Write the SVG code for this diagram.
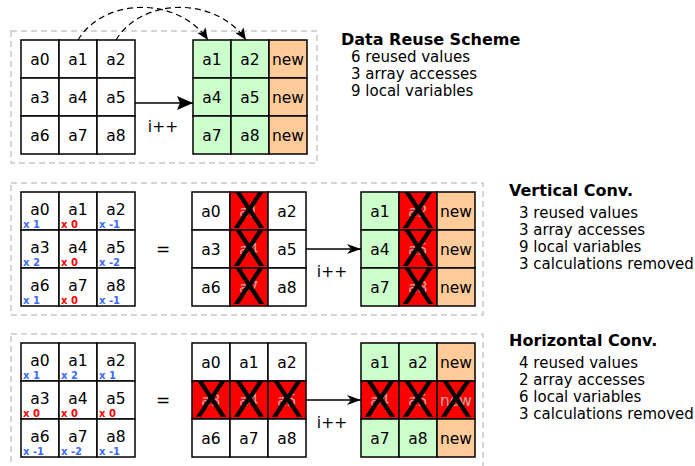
<svg xmlns="http://www.w3.org/2000/svg" width="695" height="466" viewBox="0 0 695 466">
<defs>
<style>
text{font-family:"DejaVu Sans","Liberation Sans",sans-serif;fill:#000}
.frame{fill:none;stroke:#c8c8c8;stroke-width:1.5;stroke-dasharray:6,4}
.c{stroke:#000;stroke-width:1.5}
.w{fill:#fff}.g{fill:#ccffcc}.o{fill:#ffcc99}.r{fill:#ff0000}
.lbl{font-size:15.5px;text-anchor:middle}
.hid{font-size:15.5px;text-anchor:middle;fill:#c8a0a0}
.X{font-size:49px;text-anchor:middle}
.sb{font-size:10px;font-weight:bold;fill:#3a6bff}
.sr{font-size:10px;font-weight:bold;fill:#ff0000}
.title{font-size:16px;font-weight:bold}
.item{font-size:15px}
.conn{fill:none;stroke:#000;stroke-width:1.5}
.dash{fill:none;stroke:#000;stroke-width:1.2;stroke-dasharray:6,4}
</style>
<marker id="big" viewBox="0 0 16 14" refX="16" refY="7" markerWidth="16" markerHeight="14" markerUnits="userSpaceOnUse" orient="auto"><path d="M0,0 L16,7 L0,14 L3,7 z" fill="#000"/></marker>
<marker id="sm" viewBox="0 0 14 10" refX="14" refY="5" markerWidth="14" markerHeight="10" markerUnits="userSpaceOnUse" orient="auto"><path d="M0,0 L14,5 L0,10 L4,5 z" fill="#000"/></marker>
<marker id="dh" viewBox="0 0 12 10" refX="12" refY="5" markerWidth="12" markerHeight="10" markerUnits="userSpaceOnUse" orient="auto"><path d="M0,0 L12,5 L0,10 L3,5 z" fill="#000"/></marker>
</defs>

<rect class="frame" x="11" y="31" width="306" height="132"/>
<rect class="frame" x="11" y="183" width="472" height="132"/>
<rect class="frame" x="11" y="334" width="472" height="142"/>

<!-- Section 1 -->
<g id="s1-src">
<rect class="c w" x="21" y="40" width="38" height="38"/><rect class="c w" x="59" y="40" width="38" height="38"/><rect class="c w" x="97" y="40" width="38" height="38"/>
<rect class="c w" x="21" y="78" width="38" height="38"/><rect class="c w" x="59" y="78" width="38" height="38"/><rect class="c w" x="97" y="78" width="38" height="38"/>
<rect class="c w" x="21" y="116" width="38" height="38"/><rect class="c w" x="59" y="116" width="38" height="38"/><rect class="c w" x="97" y="116" width="38" height="38"/>
<text class="lbl" x="40" y="65">a0</text><text class="lbl" x="78" y="65">a1</text><text class="lbl" x="116" y="65">a2</text>
<text class="lbl" x="40" y="103">a3</text><text class="lbl" x="78" y="103">a4</text><text class="lbl" x="116" y="103">a5</text>
<text class="lbl" x="40" y="141">a6</text><text class="lbl" x="78" y="141">a7</text><text class="lbl" x="116" y="141">a8</text>
</g>
<g id="s1-dst">
<rect class="c g" x="193" y="40" width="38" height="38"/><rect class="c g" x="231" y="40" width="38" height="38"/><rect class="c o" x="269" y="40" width="38" height="38"/>
<rect class="c g" x="193" y="78" width="38" height="38"/><rect class="c g" x="231" y="78" width="38" height="38"/><rect class="c o" x="269" y="78" width="38" height="38"/>
<rect class="c g" x="193" y="116" width="38" height="38"/><rect class="c g" x="231" y="116" width="38" height="38"/><rect class="c o" x="269" y="116" width="38" height="38"/>
<text class="lbl" x="212" y="65">a1</text><text class="lbl" x="250" y="65">a2</text><text class="lbl" x="288" y="65">new</text>
<text class="lbl" x="212" y="103">a4</text><text class="lbl" x="250" y="103">a5</text><text class="lbl" x="288" y="103">new</text>
<text class="lbl" x="212" y="141">a7</text><text class="lbl" x="250" y="141">a8</text><text class="lbl" x="288" y="141">new</text>
</g>
<g id="s1-text">
<text class="title" x="341" y="45">Data Reuse Scheme</text>
<text class="item" x="351" y="62">6 reused values</text>
<text class="item" x="351" y="79">3 array accesses</text>
<text class="item" x="351" y="96">9 local variables</text>
</g>

<!-- Section 2 -->
<g id="s2-src">
<rect class="c w" x="21" y="192" width="38" height="38"/><rect class="c w" x="59" y="192" width="38" height="38"/><rect class="c w" x="97" y="192" width="38" height="38"/>
<rect class="c w" x="21" y="230" width="38" height="38"/><rect class="c w" x="59" y="230" width="38" height="38"/><rect class="c w" x="97" y="230" width="38" height="38"/>
<rect class="c w" x="21" y="268" width="38" height="38"/><rect class="c w" x="59" y="268" width="38" height="38"/><rect class="c w" x="97" y="268" width="38" height="38"/>
<text class="lbl" x="40" y="215">a0</text><text class="lbl" x="78" y="215">a1</text><text class="lbl" x="116" y="215">a2</text>
<text class="lbl" x="40" y="253">a3</text><text class="lbl" x="78" y="253">a4</text><text class="lbl" x="116" y="253">a5</text>
<text class="lbl" x="40" y="291">a6</text><text class="lbl" x="78" y="291">a7</text><text class="lbl" x="116" y="291">a8</text>
<text class="sb" x="23" y="228">x 1</text><text class="sr" x="61" y="228">x 0</text><text class="sb" x="99" y="228">x -1</text>
<text class="sb" x="23" y="266">x 2</text><text class="sr" x="61" y="266">x 0</text><text class="sb" x="99" y="266">x -2</text>
<text class="sb" x="23" y="304">x 1</text><text class="sr" x="61" y="304">x 0</text><text class="sb" x="99" y="304">x -1</text>
</g>
<text x="163" y="255" style="font-size:17px;text-anchor:middle">=</text>
<g id="s2-mid">
<rect class="c w" x="192" y="192" width="38" height="38"/><rect class="c r" x="230" y="192" width="38" height="38"/><rect class="c w" x="268" y="192" width="38" height="38"/>
<rect class="c w" x="192" y="230" width="38" height="38"/><rect class="c r" x="230" y="230" width="38" height="38"/><rect class="c w" x="268" y="230" width="38" height="38"/>
<rect class="c w" x="192" y="268" width="38" height="38"/><rect class="c r" x="230" y="268" width="38" height="38"/><rect class="c w" x="268" y="268" width="38" height="38"/>
<text class="lbl" x="211" y="217">a0</text><text class="hid" x="249" y="217">a1</text><text class="lbl" x="287" y="217">a2</text>
<text class="lbl" x="211" y="255">a3</text><text class="hid" x="249" y="255">a4</text><text class="lbl" x="287" y="255">a5</text>
<text class="lbl" x="211" y="293">a6</text><text class="hid" x="249" y="293">a7</text><text class="lbl" x="287" y="293">a8</text>
<text class="X" x="249" y="228">X</text><text class="X" x="249" y="266">X</text><text class="X" x="249" y="304">X</text>
</g>
<g id="s2-dst">
<rect class="c g" x="361" y="192" width="38" height="38"/><rect class="c r" x="399" y="192" width="38" height="38"/><rect class="c o" x="437" y="192" width="38" height="38"/>
<rect class="c g" x="361" y="230" width="38" height="38"/><rect class="c r" x="399" y="230" width="38" height="38"/><rect class="c o" x="437" y="230" width="38" height="38"/>
<rect class="c g" x="361" y="268" width="38" height="38"/><rect class="c r" x="399" y="268" width="38" height="38"/><rect class="c o" x="437" y="268" width="38" height="38"/>
<text class="lbl" x="380" y="217">a1</text><text class="hid" x="418" y="217">a2</text><text class="lbl" x="456" y="217">new</text>
<text class="lbl" x="380" y="255">a4</text><text class="hid" x="418" y="255">a5</text><text class="lbl" x="456" y="255">new</text>
<text class="lbl" x="380" y="293">a7</text><text class="hid" x="418" y="293">a8</text><text class="lbl" x="456" y="293">new</text>
<text class="X" x="418" y="228">X</text><text class="X" x="418" y="266">X</text><text class="X" x="418" y="304">X</text>
</g>
<g id="s2-text">
<text class="title" x="509" y="196">Vertical Conv.</text>
<text class="item" x="519" y="218">3 reused values</text>
<text class="item" x="519" y="235">3 array accesses</text>
<text class="item" x="519" y="252">9 local variables</text>
<text class="item" x="519" y="269">3 calculations removed</text>
</g>

<!-- Section 3 -->
<g id="s3-src">
<rect class="c w" x="21" y="343" width="38" height="38"/><rect class="c w" x="59" y="343" width="38" height="38"/><rect class="c w" x="97" y="343" width="38" height="38"/>
<rect class="c w" x="21" y="381" width="38" height="38"/><rect class="c w" x="59" y="381" width="38" height="38"/><rect class="c w" x="97" y="381" width="38" height="38"/>
<rect class="c w" x="21" y="419" width="38" height="38"/><rect class="c w" x="59" y="419" width="38" height="38"/><rect class="c w" x="97" y="419" width="38" height="38"/>
<text class="lbl" x="40" y="366">a0</text><text class="lbl" x="78" y="366">a1</text><text class="lbl" x="116" y="366">a2</text>
<text class="lbl" x="40" y="404">a3</text><text class="lbl" x="78" y="404">a4</text><text class="lbl" x="116" y="404">a5</text>
<text class="lbl" x="40" y="442">a6</text><text class="lbl" x="78" y="442">a7</text><text class="lbl" x="116" y="442">a8</text>
<text class="sb" x="23" y="379">x 1</text><text class="sb" x="61" y="379">x 2</text><text class="sb" x="99" y="379">x 1</text>
<text class="sr" x="23" y="417">x 0</text><text class="sr" x="61" y="417">x 0</text><text class="sr" x="99" y="417">x 0</text>
<text class="sb" x="23" y="455">x -1</text><text class="sb" x="61" y="455">x -2</text><text class="sb" x="99" y="455">x -1</text>
</g>
<text x="163" y="406" style="font-size:17px;text-anchor:middle">=</text>
<g id="s3-mid">
<rect class="c w" x="192" y="343" width="38" height="38"/><rect class="c w" x="230" y="343" width="38" height="38"/><rect class="c w" x="268" y="343" width="38" height="38"/>
<rect class="c r" x="192" y="381" width="38" height="38"/><rect class="c r" x="230" y="381" width="38" height="38"/><rect class="c r" x="268" y="381" width="38" height="38"/>
<rect class="c w" x="192" y="419" width="38" height="38"/><rect class="c w" x="230" y="419" width="38" height="38"/><rect class="c w" x="268" y="419" width="38" height="38"/>
<text class="lbl" x="211" y="368">a0</text><text class="lbl" x="249" y="368">a1</text><text class="lbl" x="287" y="368">a2</text>
<text class="hid" x="211" y="406">a3</text><text class="hid" x="249" y="406">a4</text><text class="hid" x="287" y="406">a5</text>
<text class="lbl" x="211" y="444">a6</text><text class="lbl" x="249" y="444">a7</text><text class="lbl" x="287" y="444">a8</text>
<text class="X" x="211" y="417">X</text><text class="X" x="249" y="417">X</text><text class="X" x="287" y="417">X</text>
</g>
<g id="s3-dst">
<rect class="c g" x="361" y="343" width="38" height="38"/><rect class="c g" x="399" y="343" width="38" height="38"/><rect class="c o" x="437" y="343" width="38" height="38"/>
<rect class="c r" x="361" y="381" width="38" height="38"/><rect class="c r" x="399" y="381" width="38" height="38"/><rect class="c r" x="437" y="381" width="38" height="38"/>
<rect class="c g" x="361" y="419" width="38" height="38"/><rect class="c g" x="399" y="419" width="38" height="38"/><rect class="c o" x="437" y="419" width="38" height="38"/>
<text class="lbl" x="380" y="368">a1</text><text class="lbl" x="418" y="368">a2</text><text class="lbl" x="456" y="368">new</text>
<text class="hid" x="380" y="406">a4</text><text class="hid" x="418" y="406">a5</text><text class="hid" x="456" y="406">new</text>
<text class="lbl" x="380" y="444">a7</text><text class="lbl" x="418" y="444">a8</text><text class="lbl" x="456" y="444">new</text>
<text class="X" x="380" y="417">X</text><text class="X" x="418" y="417">X</text><text class="X" x="456" y="417">X</text>
</g>
<g id="s3-text">
<text class="title" x="509" y="346">Horizontal Conv.</text>
<text class="item" x="519" y="368">4 reused values</text>
<text class="item" x="519" y="385">2 array accesses</text>
<text class="item" x="519" y="402">6 local variables</text>
<text class="item" x="519" y="419">3 calculations removed</text>
</g>

<g id="connectors">
<path class="conn" d="M135,103 L193,103" marker-end="url(#big)"/>
<path class="dash" d="M78,40 C104,-3 178,-4 208,40" marker-end="url(#dh)"/>
<path class="dash" d="M116,40 C142,-3 216,-4 246,40" marker-end="url(#dh)"/>
<text class="lbl" x="163" y="132">i++</text>
<path class="conn" d="M306,249 L361,249" marker-end="url(#sm)"/>
<text class="lbl" x="332" y="277">i++</text>
<path class="conn" d="M306,400 L361,400" marker-end="url(#sm)"/>
<text class="lbl" x="332" y="428">i++</text>
</g>
</svg>
